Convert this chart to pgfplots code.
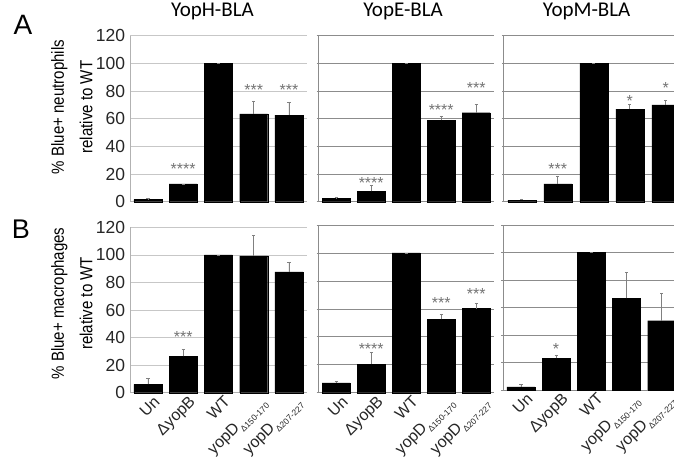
\documentclass[border=0pt]{standalone}
\usepackage{pgfplots}
\usepackage{pgfplotstable}
\pgfplotsset{compat=1.18}
\usepackage{fontspec}
\setmainfont{Liberation Sans}
\newfontfamily\titlefont{Carlito}
\newfontfamily\narrowfont[FakeStretch=0.86]{Liberation Sans}

% ---- data (bar value, upper error) ----
\pgfplotstableread{
x y e
0 1.5 0.8
1 12.8 0
2 100 0
3 63.4 9.4
4 62.6 9.0
}\tabAH
\pgfplotstableread{
x y e
0 2.5 0.4
1 7.5 4.5
2 100 0
3 59.0 3.0
4 64.3 6.0
}\tabAE
\pgfplotstableread{
x y e
0 1.2 0.8
1 12.8 5.7
2 100 0
3 67.0 3.3
4 70.0 3.0
}\tabAM
\pgfplotstableread{
x y e
0 6.1 4.4
1 26.3 5.4
2 100 0
3 99.3 14.6
4 87.6 6.9
}\tabBH
\pgfplotstableread{
x y e
0 7.1 1.0
1 20.5 8.1
2 100 0
3 52.4 3.6
4 60.2 3.6
}\tabBE
\pgfplotstableread{
x y e
0 2.2 1.7
1 23.0 2.5
2 100 0
3 66.7 19.1
4 50.4 20.1
}\tabBM
% ---- significance stars ----
\pgfplotstableread{
x y s
1 26 ****
3 83 ***
4 83 ***
}\starAH
\pgfplotstableread{
x y s
1 16 ****
3 68.6 ****
4 84.8 ***
}\starAE
\pgfplotstableread{
x y s
1 26 ***
3 75.4 *
4 84.8 *
}\starAM
\pgfplotstableread{
x y s
1 43 ***
}\starBH
\pgfplotstableread{
x y s
1 33.3 ****
3 66.2 ***
4 73.1 ***
}\starBE
\pgfplotstableread{
x y s
1 32 *
}\starBM

\pgfplotsset{
  panel/.style={
    scale only axis, ymin=0, ymax=120, xmin=-0.5, xmax=4.5,
    xtick={0,1,2,3,4}, ytick={0,20,...,120},
    ymajorgrids, axis x line*=bottom, axis y line*=left,
    x tick style={draw=none}, tick align=outside, major tick length=2pt,
    xticklabels={}, clip=false,
    /pgf/number format/assume math mode=true,
    tick label style={font=\fontsize{17.5}{18}\selectfont, text=black!85},
    title style={font=\titlefont\fontsize{21}{22}\selectfont, anchor=base, yshift=13pt},
  },
  leftcol/.style={
    grid style={black!22, line width=0.6pt},
    axis line style={-, black!30, line width=0.6pt},
    y tick style={draw=none},
    yticklabel style={inner sep=0pt, xshift=-3pt},
  },
  othercol/.style={
    grid style={black!45, line width=0.7pt},
    axis line style={-, black!45, line width=0.7pt},
    y tick style={black!45, line width=0.7pt},
    yticklabels={},
  },
  blabels/.style={
    xticklabels={Un,ΔyopB,WT,{yopD\raisebox{-0.6ex}{\fontsize{8.5}{9}\selectfont Δ150-170}},{yopD\raisebox{-0.6ex}{\fontsize{8.5}{9}\selectfont Δ207-227}}},
    xticklabel style={rotate=45, anchor=north east, inner sep=0.5pt, xshift=4pt, yshift=-3pt,
      font=\fontsize{16}{16}\selectfont, text=black!85},
  },
  bars/.style={ybar, bar width=28pt, fill=black, draw=black, line width=0.3pt,
    error bars/.cd, y dir=plus, y explicit,
    error bar style={black!50, line width=0.7pt},
    error mark options={rotate=90, black!50, mark size=1.6pt, line width=0.7pt}},
  stars/.style={only marks, mark=none, nodes near coords, point meta=explicit symbolic,
    nodes near coords style={anchor=center, yshift=-3.3pt, inner sep=0pt,
      font=\fontsize{16}{16}\selectfont, text=black!55}},
}

\begin{document}
\begin{tikzpicture}[x=1pt,y=1pt]
\useasboundingbox (0,0) rectangle (674,463);
\clip (0,0) rectangle (674,463);

\node[font=\fontsize{28}{28}\selectfont] at (23,438) {A};
\node[font=\fontsize{27}{27}\selectfont] at (21,234) {B};

% ---------- Row A ----------
\begin{axis}[panel, leftcol, at={(130.3pt,261.3pt)}, anchor=south west,
  width=176.25pt, height=166pt,
  title={YopH-BLA}, title style={at={(axis description cs:0.466,1)}},
  ylabel={\% Blue+ neutrophils\\relative to WT},
  ylabel style={at={(axis description cs:-0.331,0.57)}, anchor=center, align=center,
    font=\narrowfont\fontsize{17.5}{28.5}\selectfont}]
\addplot[bars] table[x=x,y=y,y error=e]{\tabAH};
\addplot[stars] table[x=x,y=y,meta=s]{\starAH};
\end{axis}

\begin{axis}[panel, othercol, at={(318.7pt,261.3pt)}, anchor=south west,
  width=175pt, height=166pt,
  title={YopE-BLA}, title style={at={(axis description cs:0.482,1)}}]
\addplot[bars] table[x=x,y=y,y error=e]{\tabAE};
\addplot[stars] table[x=x,y=y,meta=s]{\starAE};
\end{axis}

\begin{axis}[panel, othercol, at={(503.8pt,261.3pt)}, anchor=south west,
  width=180pt, height=166pt,
  title={YopM-BLA}, title style={at={(axis description cs:0.46,1)}}]
\addplot[bars] table[x=x,y=y,y error=e]{\tabAM};
\addplot[stars] table[x=x,y=y,meta=s]{\starAM};
\end{axis}

% ---------- Row B ----------
\begin{axis}[panel, leftcol, blabels, at={(130.3pt,70.3pt)}, anchor=south west,
  width=176.25pt, height=165.4pt,
  ylabel={\% Blue+ macrophages\\relative to WT},
  ylabel style={at={(axis description cs:-0.331,0.54)}, anchor=center, align=center,
    font=\narrowfont\fontsize{17.5}{28.5}\selectfont}]
\addplot[bars] table[x=x,y=y,y error=e]{\tabBH};
\addplot[stars] table[x=x,y=y,meta=s]{\starBH};
\end{axis}

\begin{axis}[panel, othercol, blabels, at={(318.7pt,70.3pt)}, anchor=south west,
  width=175pt, height=167.7pt]
\addplot[bars] table[x=x,y=y,y error=e]{\tabBE};
\addplot[stars] table[x=x,y=y,meta=s]{\starBE};
\end{axis}

\begin{axis}[panel, othercol, blabels, at={(503.3pt,73pt)}, anchor=south west,
  width=176pt, height=165pt]
\addplot[bars] table[x=x,y=y,y error=e]{\tabBM};
\addplot[stars] table[x=x,y=y,meta=s]{\starBM};
\end{axis}
\end{tikzpicture}
\end{document}
